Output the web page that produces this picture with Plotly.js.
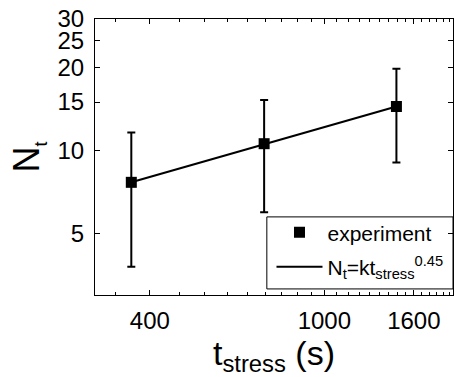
<!DOCTYPE html>
<html>
<head>
<meta charset="utf-8">
<script src="https://cdn.plot.ly/plotly-3.0.1.min.js"></script>
<style>html,body{margin:0;padding:0;background:#fff;}#chart{width:454px;height:377px;}</style>
</head>
<body>
<div id="chart"></div>
<script>
// Data
const tStress = [363, 729, 1460];
const Nt = [7.68, 10.6, 14.46];
const errPlus = [3.97, 4.65, 5.34];
const errMinus = [3.88, 4.62, 5.39];
// Power-law fit line N_t = k t^0.45 (endpoints)
const fitT = [363, 1460];
const fitN = [7.68, 14.46];
// Tick labels
const xTicks = [400, 1000, 1600];
const yTicks = [5, 10, 15, 20, 25, 30];

// Origin-style minor ticks: 8 minor ticks between linear major increments of 600
const xMinor = [];
const step = (xTicks[1] - xTicks[0]) / 9;
for (let v = xTicks[0] - step; v < 2000; v += step) {
  if (xTicks.every(m => Math.abs(m - v) > 1)) xMinor.push(v);
}

const font = 'Liberation Sans, Arial, sans-serif';

const data = [
  {
    x: fitT, y: fitN, type: 'scatter', mode: 'lines',
    name: 'N<sub>t</sub>=kt<sub>stress</sub><sup>0.45</sup>',
    legendgroup: 'fit', legendrank: 2,
    line: {color: '#000', width: 2}
  },
  {
    x: tStress, y: Nt, type: 'scatter', mode: 'markers', name: 'experiment',
    legendgroup: 'exp', legendrank: 1,
    marker: {symbol: 'square', size: 11, color: '#000'},
    error_y: {type: 'data', symmetric: false, array: errPlus, arrayminus: errMinus,
              color: '#000', thickness: 2, width: 4}
  }
];

const layout = {
  width: 454, height: 377,
  margin: {l: 95, r: 1, t: 19, b: 82},
  paper_bgcolor: '#fff', plot_bgcolor: '#fff',
  font: {family: font, color: '#000', size: 21},
  showlegend: true,
  legend: {
    x: 0.493, y: 0.3, xanchor: 'left', yanchor: 'top',
    bgcolor: 'rgba(0,0,0,0)', borderwidth: 0,
    font: {family: font, size: 21, color: '#000'},
    traceorder: 'grouped', tracegroupgap: 4, itemwidth: 46
  },
  xaxis: {
    type: 'log', range: [Math.log10(300), Math.log10(1965)],
    tickmode: 'array', tickvals: xTicks, ticktext: xTicks.map(String),
    ticks: 'inside', ticklen: 5, tickwidth: 1, tickcolor: '#000',
    showline: true, linecolor: '#000', linewidth: 1, mirror: 'ticks',
    showgrid: false, zeroline: false,
    tickfont: {family: font, size: 24},
    ticklabelstandoff: 4,
    minor: {tickmode: 'array', tickvals: xMinor, ticks: 'inside', ticklen: 3, tickwidth: 1, tickcolor: '#000', showgrid: false},
    title: {text: 't<sub>stress</sub> (s)', font: {family: font, size: 34}, standoff: 2}
  },
  yaxis: {
    type: 'log', range: [Math.log10(3), Math.log10(30)],
    tickmode: 'array', tickvals: yTicks, ticktext: yTicks.map(String),
    ticks: 'inside', ticklen: 5, tickwidth: 1, tickcolor: '#000',
    showline: true, linecolor: '#000', linewidth: 1, mirror: 'ticks',
    showgrid: false, zeroline: false,
    tickfont: {family: font, size: 24},
    ticklabelstandoff: 5,
    title: {text: 'N<sub><span style="font-size:18px">t</span></sub>', font: {family: font, size: 36}, standoff: 6}
  },
  shapes: [{
    type: 'rect', xref: 'paper', yref: 'paper',
    x0: 0.48, x1: 1, y0: 0.022, y1: 0.283,
    line: {color: '#000', width: 1}, fillcolor: 'rgba(0,0,0,0)', layer: 'above'
  }]
};

Plotly.newPlot('chart', data, layout, {staticPlot: true, displayModeBar: false});
</script>
</body>
</html>
